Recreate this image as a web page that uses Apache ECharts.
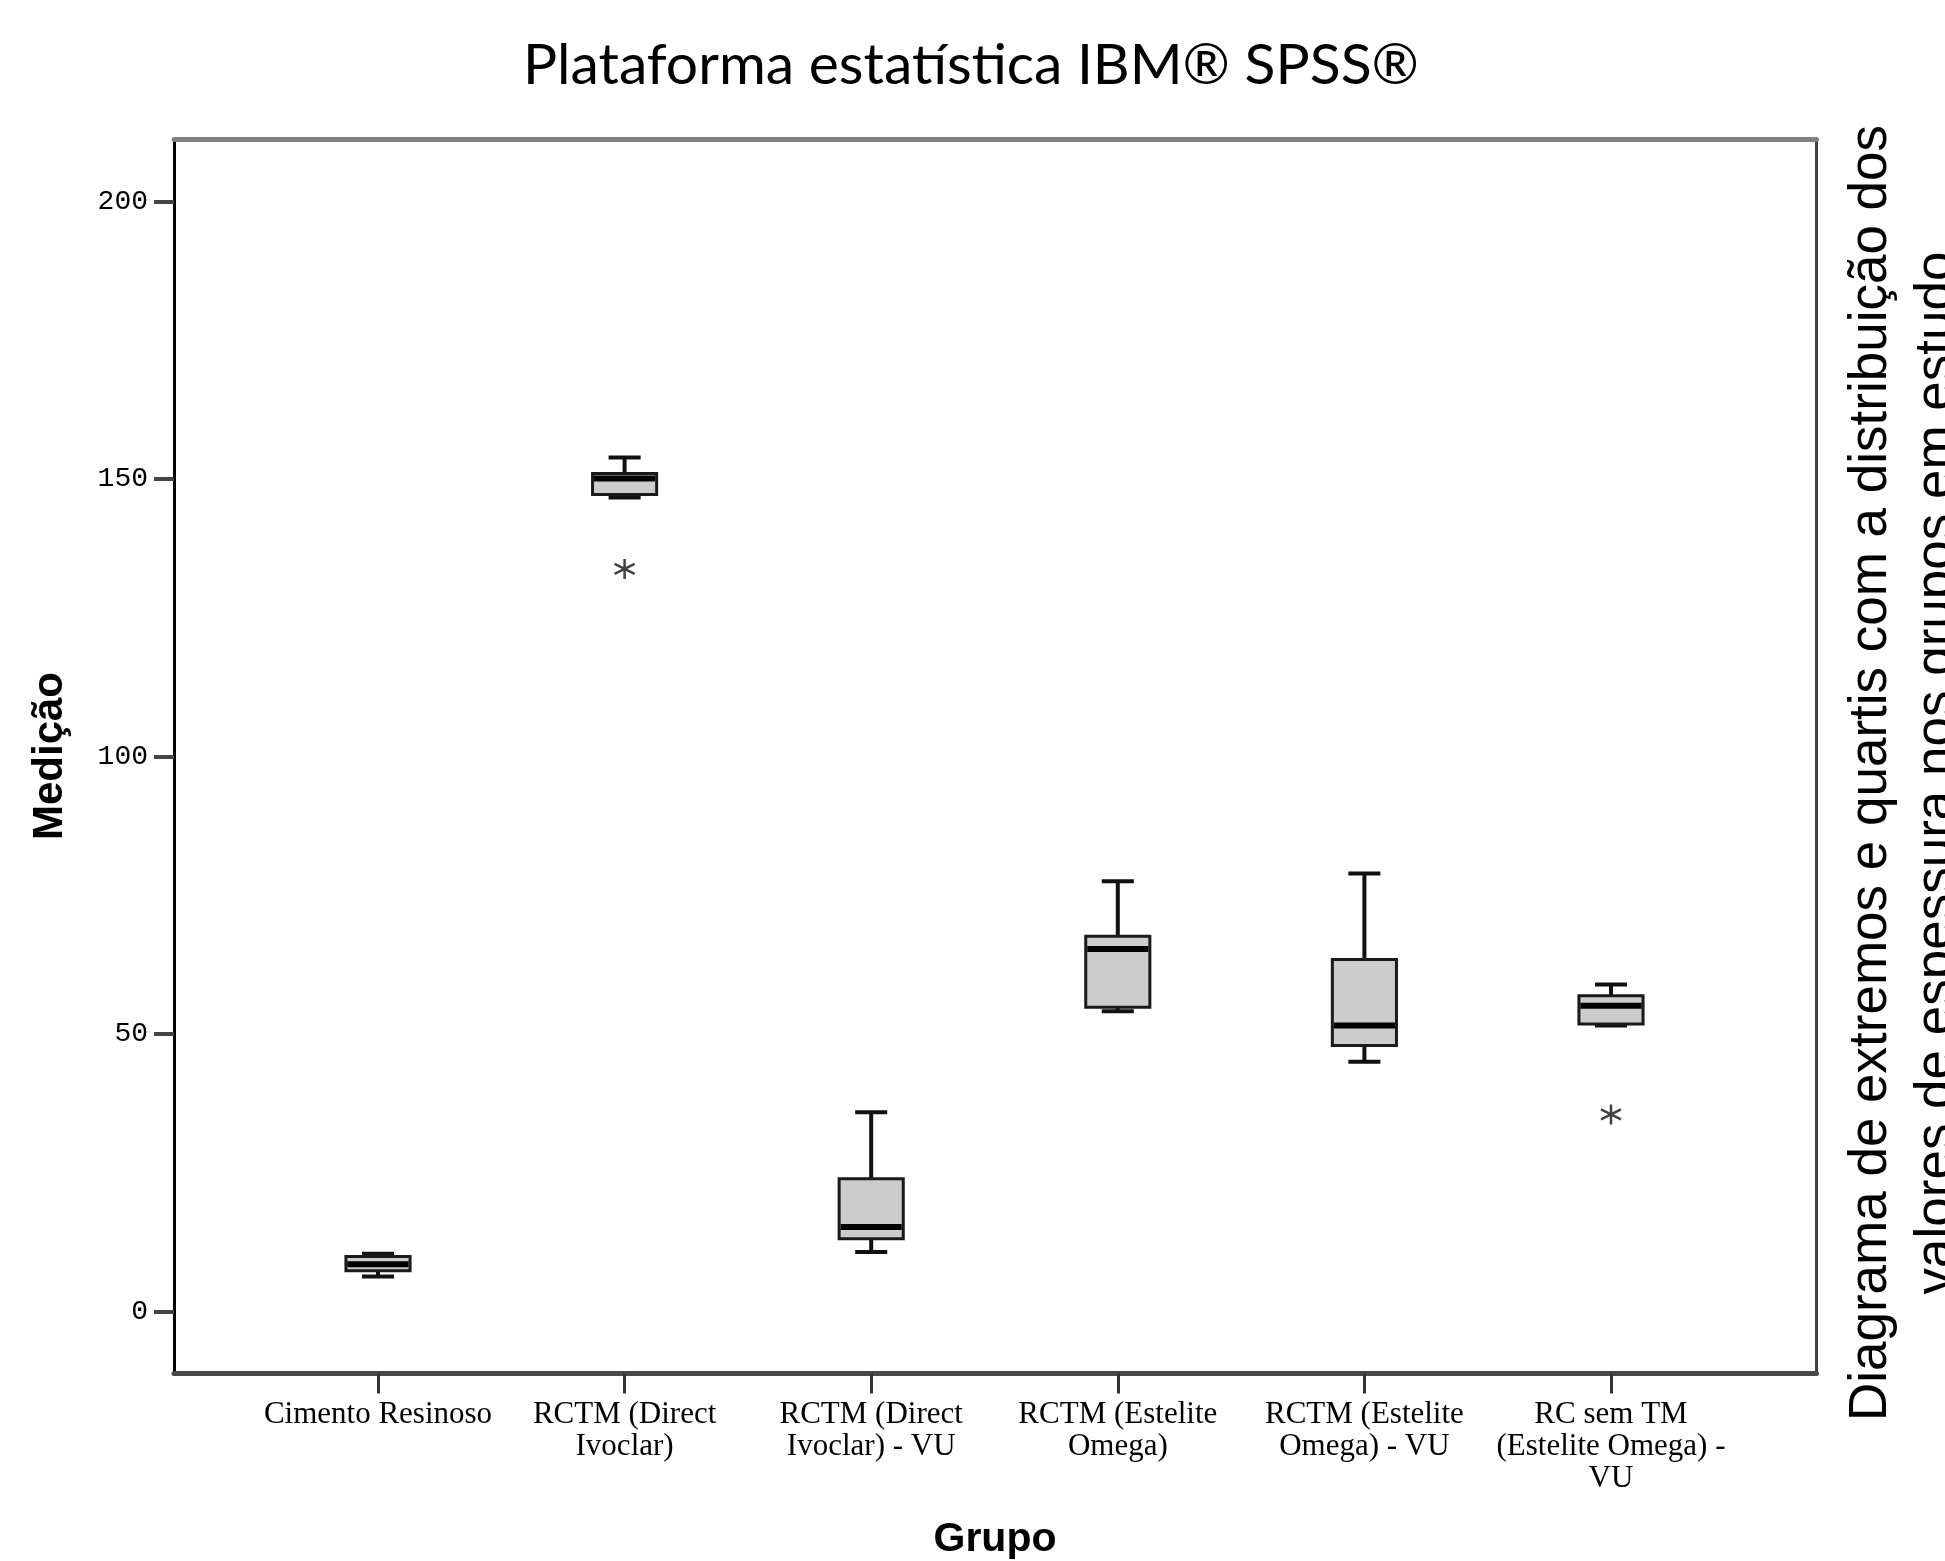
<!DOCTYPE html>
<html><head><meta charset="utf-8">
<script src="https://cdn.jsdelivr.net/npm/echarts@6/dist/echarts.min.js"></script>
<style>html,body{margin:0;padding:0;background:#fff}#c{width:1945px;height:1561px}</style>
</head><body><div id="c"></div>
<script>
const categories = ['Cimento Resinoso', 'RCTM (Direct\nIvoclar)', 'RCTM (Direct\nIvoclar) - VU', 'RCTM (Estelite\nOmega)', 'RCTM (Estelite\nOmega) - VU', 'RC sem TM\n(Estelite Omega) -\nVU'];
const whiskerLow  = [6.3, 146.7, 10.7, 54.1, 45.0, 51.5];
const q1          = [7.3, 147.2, 13.1, 54.8, 47.9, 51.8];
const median      = [8.5, 150.1, 15.2, 65.3, 51.5, 55.1];
const q3          = [9.9, 151.0, 23.9, 67.6, 63.4, 56.9];
const whiskerHigh = [10.4, 153.9, 35.9, 77.5, 78.9, 58.9];
const outlierGroup = [1, 5];
const outlierValue = [133.8, 35.5];
const yTicks = [0, 50, 100, 150, 200];
const yMin = -11.2, yMax = 211.2;

const boxData = categories.map((c, i) => [i, whiskerLow[i], q1[i], median[i], q3[i], whiskerHigh[i]]);
const outlierData = outlierGroup.map((g, i) => [g, outlierValue[i]]);

function renderBox(params, api) {
  const i = api.value(0);
  const lo = api.coord([i, api.value(1)]);
  const b1 = api.coord([i, api.value(2)]);
  const md = api.coord([i, api.value(3)]);
  const b3 = api.coord([i, api.value(4)]);
  const hi = api.coord([i, api.value(5)]);
  const band = api.size([1, 0])[0];
  const bw = band * 0.26;
  const cw = bw * 0.5;
  const cx = lo[0];
  const ws = {stroke: '#111', lineWidth: 4};
  return {type: 'group', children: [
    {type: 'line', shape: {x1: cx, y1: hi[1], x2: cx, y2: b3[1]}, style: ws},
    {type: 'line', shape: {x1: cx, y1: lo[1], x2: cx, y2: b1[1]}, style: ws},
    {type: 'line', shape: {x1: cx - cw / 2, y1: hi[1], x2: cx + cw / 2, y2: hi[1]}, style: ws},
    {type: 'line', shape: {x1: cx - cw / 2, y1: lo[1], x2: cx + cw / 2, y2: lo[1]}, style: ws},
    {type: 'rect', shape: {x: cx - bw / 2, y: b3[1], width: bw, height: b1[1] - b3[1]}, style: {fill: '#cccccc', stroke: '#1a1a1a', lineWidth: 3}},
    {type: 'line', shape: {x1: cx - bw / 2 + 1.5, y1: md[1], x2: cx + bw / 2 - 1.5, y2: md[1]}, style: {stroke: '#000', lineWidth: 6}}
  ]};
}

const chart = echarts.init(document.getElementById('c'), null, {renderer: 'canvas'});
chart.setOption({
  backgroundColor: '#fff',
  animation: false,
  grid: [
    {left: 254.7, width: 1479.6, top: 139.5, height: 1234},
    {left: 174, right: 128.5, top: 139.5, height: 1234}
  ],
  xAxis: [
    {gridIndex: 0, type: 'category', data: categories, boundaryGap: true,
     axisLine: {show: false, onZero: false},
     axisTick: {show: true, alignWithLabel: true, length: 20, lineStyle: {color: '#333', width: 3}},
     axisLabel: {interval: 0, fontFamily: 'Liberation Serif', fontSize: 31, lineHeight: 32, color: '#000', margin: 25},
     splitLine: {show: false}},
    {gridIndex: 1, type: 'value', min: 0, max: 1, position: 'bottom',
     axisLine: {show: true, onZero: false, lineStyle: {color: '#484848', width: 5}},
     axisTick: {show: false}, axisLabel: {show: false}, splitLine: {show: false}},
    {gridIndex: 1, type: 'value', min: 0, max: 1, position: 'top',
     axisLine: {show: true, onZero: false, lineStyle: {color: '#808080', width: 5}},
     axisTick: {show: false}, axisLabel: {show: false}, splitLine: {show: false}}
  ],
  yAxis: [
    {gridIndex: 0, type: 'value', min: yMin, max: yMax, show: false, splitLine: {show: false}},
    {gridIndex: 1, type: 'value', min: yMin, max: yMax, position: 'left',
     axisLine: {show: true, onZero: false, lineStyle: {color: '#000', width: 3}},
     axisTick: {show: true, customValues: yTicks, length: 20, lineStyle: {color: '#444', width: 4}},
     axisLabel: {customValues: yTicks, fontFamily: 'Liberation Mono', fontSize: 28, color: '#000', margin: 26},
     splitLine: {show: false}},
    {gridIndex: 1, type: 'value', min: yMin, max: yMax, position: 'right',
     axisLine: {show: true, onZero: false, lineStyle: {color: '#404040', width: 3}},
     axisTick: {show: false}, axisLabel: {show: false}, splitLine: {show: false}}
  ],
  series: [
    {type: 'custom', xAxisIndex: 0, yAxisIndex: 0, renderItem: renderBox, data: boxData,
     encode: {x: 0, y: [1, 2, 3, 4, 5]}, z: 5},
    {type: 'scatter', xAxisIndex: 0, yAxisIndex: 0, data: outlierData,
     symbol: 'path://M10 0L10 20M1.34 5L18.66 15M1.34 15L18.66 5', symbolSize: 20,
     itemStyle: {color: 'rgba(0,0,0,0)', borderColor: '#111', borderWidth: 2.5}, z: 6}
  ],
  graphic: [
    {type: 'text', x: 971, y: 66, style: {text: 'Plataforma estatística IBM® SPSS®', font: '57px Lato', fill: '#000', textAlign: 'center', textVerticalAlign: 'middle'}},
    {type: 'text', x: 50, y: 756, rotation: Math.PI / 2, style: {text: 'Medição', font: 'bold 42px "Liberation Sans"', fill: '#000', textAlign: 'center', textVerticalAlign: 'middle'}},
    {type: 'text', x: 995, y: 1540, style: {text: 'Grupo', font: 'bold 41px "Liberation Sans"', fill: '#000', textAlign: 'center', textVerticalAlign: 'middle'}},
    {type: 'text', x: 1904, y: 773, rotation: Math.PI / 2, style: {text: 'Diagrama de extremos e quartis com a distribuição dos\nvalores de espessura nos grupos em estudo', font: '53px "Liberation Sans"', lineHeight: 66, fill: '#000', textAlign: 'center', textVerticalAlign: 'middle'}}
  ]
});
</script>
</body></html>
